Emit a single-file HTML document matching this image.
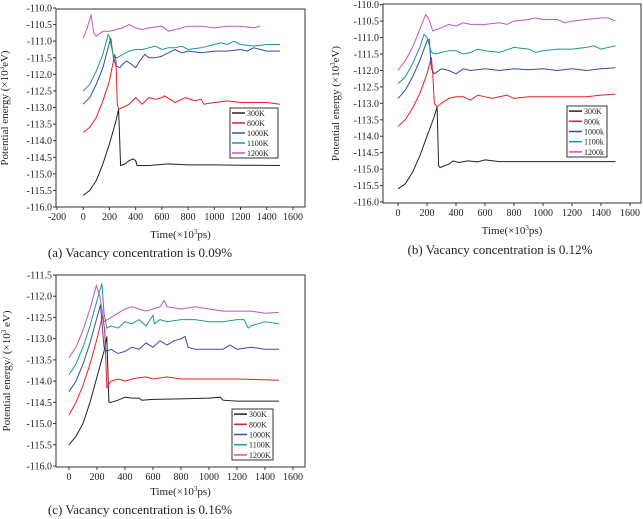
<!DOCTYPE html>
<html><head><meta charset="utf-8"><style>
html,body{margin:0;padding:0;background:#fff}
svg{display:block}
text{font-family:"Liberation Serif",serif;fill:#222}
</style></head><body>
<svg id="fig" width="643" height="519" viewBox="0 0 643 519" xmlns="http://www.w3.org/2000/svg"></svg>
<script>
const seriesNames=["300K","800K","1000K","1100K","1200K"];
const colors=["#222","#e8202a","#3a4aa8","#1a9a8a","#c055c0"];
const legendA=["300K","800K","1000K","1100K","1200K"];
const legendB=["300K","800k","1000k","1100k","1200k"];
const xTicksA=[-200,0,200,400,600,800,1000,1200,1400,1600];
const xTicksBC=[0,200,400,600,800,1000,1200,1400,1600];
const yTicksAB=[-110.0,-110.5,-111.0,-111.5,-112.0,-112.5,-113.0,-113.5,-114.0,-114.5,-115.0,-115.5,-116.0];
const yTicksC=[-111.5,-112.0,-112.5,-113.0,-113.5,-114.0,-114.5,-115.0,-115.5,-116.0];
const a300=[[0,-115.65],[50,-115.5],[100,-115.2],[150,-114.7],[200,-114.1],[250,-113.4],[270,-113.05],[285,-114.75],[320,-114.7],[350,-114.6],[380,-114.55],[400,-114.6],[410,-114.75],[500,-114.75],[650,-114.7],[800,-114.73],[1000,-114.73],[1200,-114.74],[1500,-114.75]];
const a800=[[0,-113.75],[50,-113.6],[100,-113.3],[150,-112.8],[200,-112.2],[240,-111.4],[250,-111.6],[260,-112.9],[270,-113.05],[300,-113.0],[350,-112.9],[400,-112.7],[450,-112.9],[500,-112.7],[550,-112.75],[600,-112.7],[620,-112.65],[700,-112.85],[780,-112.7],[850,-112.8],[900,-112.75],[920,-112.9],[1000,-112.85],[1100,-112.8],[1200,-112.85],[1300,-112.85],[1400,-112.85],[1500,-112.9]];
const a1000=[[0,-112.9],[50,-112.7],[100,-112.3],[150,-111.8],[190,-111.2],[210,-110.9],[230,-111.5],[250,-111.75],[280,-111.8],[300,-111.7],[330,-111.6],[370,-111.7],[400,-111.8],[430,-111.6],[470,-111.4],[500,-111.5],[550,-111.5],[600,-111.45],[650,-111.35],[700,-111.25],[750,-111.35],[800,-111.3],[900,-111.35],[1000,-111.3],[1100,-111.3],[1200,-111.25],[1250,-111.3],[1300,-111.2],[1400,-111.3],[1500,-111.3]];
const a1100=[[0,-112.5],[50,-112.3],[100,-111.9],[150,-111.4],[190,-110.8],[200,-110.85],[230,-111.45],[260,-111.5],[300,-111.4],[350,-111.3],[400,-111.25],[450,-111.25],[500,-111.2],[550,-111.15],[600,-111.25],[650,-111.2],[700,-111.2],[750,-111.15],[800,-111.25],[900,-111.2],[1000,-111.1],[1050,-111.05],[1100,-111.1],[1150,-111.0],[1200,-111.1],[1300,-111.15],[1400,-111.1],[1500,-111.1]];
const a1200=[[0,-110.9],[30,-110.6],[60,-110.2],[80,-110.75],[100,-110.85],[150,-110.7],[200,-110.7],[250,-110.65],[300,-110.6],[350,-110.5],[400,-110.6],[450,-110.65],[500,-110.6],[600,-110.55],[650,-110.7],[700,-110.65],[800,-110.55],[900,-110.55],[1000,-110.6],[1100,-110.55],[1200,-110.55],[1300,-110.6],[1350,-110.55]];
const b300=[[0,-115.6],[50,-115.45],[100,-115.1],[150,-114.6],[200,-114.0],[250,-113.4],[270,-113.1],[280,-114.9],[290,-114.95],[350,-114.85],[380,-114.75],[420,-114.8],[480,-114.75],[550,-114.78],[600,-114.72],[700,-114.77],[900,-114.77],[1200,-114.77],[1500,-114.77]];
const b800=[[0,-113.7],[50,-113.5],[100,-113.15],[150,-112.7],[200,-112.1],[230,-111.6],[240,-112.1],[250,-113.0],[270,-113.1],[300,-113.0],[350,-112.85],[400,-112.8],[450,-112.8],[500,-112.9],[550,-112.75],[600,-112.8],[650,-112.85],[700,-112.8],[750,-112.75],[800,-112.85],[900,-112.8],[1000,-112.8],[1100,-112.8],[1200,-112.8],[1300,-112.8],[1400,-112.75],[1500,-112.72]];
const b1000=[[0,-112.85],[50,-112.6],[100,-112.2],[150,-111.7],[200,-111.1],[215,-111.05],[230,-111.95],[250,-112.1],[300,-111.95],[350,-112.0],[400,-112.1],[450,-111.95],[500,-112.0],[600,-111.95],[700,-112.0],[800,-111.95],[900,-111.98],[1000,-111.95],[1100,-112.0],[1200,-111.95],[1300,-112.0],[1400,-111.95],[1500,-111.92]];
const b1100=[[0,-112.4],[50,-112.2],[100,-111.8],[150,-111.3],[180,-110.9],[200,-111.0],[230,-111.45],[260,-111.5],[300,-111.45],[350,-111.4],[400,-111.4],[450,-111.5],[500,-111.45],[550,-111.35],[600,-111.4],[700,-111.45],[800,-111.3],[900,-111.35],[950,-111.45],[1000,-111.4],[1100,-111.35],[1200,-111.35],[1300,-111.3],[1350,-111.25],[1400,-111.35],[1500,-111.25]];
const b1200=[[0,-112.0],[50,-111.7],[100,-111.3],[150,-110.75],[190,-110.3],[210,-110.4],[240,-110.8],[300,-110.7],[350,-110.6],[400,-110.65],[450,-110.55],[500,-110.6],[600,-110.6],[700,-110.55],[750,-110.6],[800,-110.5],[900,-110.45],[950,-110.4],[1000,-110.45],[1100,-110.45],[1150,-110.55],[1200,-110.5],[1300,-110.45],[1400,-110.4],[1450,-110.4],[1500,-110.5]];
const c300=[[0,-115.5],[50,-115.3],[100,-115.0],[150,-114.5],[200,-113.9],[250,-113.3],[270,-112.95],[285,-114.5],[300,-114.5],[350,-114.45],[400,-114.38],[450,-114.4],[500,-114.4],[520,-114.45],[600,-114.43],[800,-114.42],[1000,-114.4],[1080,-114.38],[1100,-114.45],[1200,-114.47],[1500,-114.47]];
const c800=[[0,-114.8],[50,-114.5],[100,-114.1],[150,-113.6],[200,-113.0],[240,-112.45],[255,-112.8],[270,-114.15],[300,-114.0],[350,-113.95],[400,-114.0],[450,-113.95],[500,-113.92],[550,-113.9],[600,-113.95],[700,-113.9],[800,-113.95],[900,-113.95],[1000,-113.95],[1200,-113.95],[1500,-113.98]];
const c1000=[[0,-114.25],[50,-114.0],[100,-113.6],[150,-113.1],[200,-112.5],[225,-112.2],[250,-113.2],[270,-113.3],[300,-113.25],[350,-113.35],[400,-113.3],[450,-113.2],[500,-113.25],[550,-113.1],[600,-113.2],[650,-113.05],[700,-113.15],[750,-113.05],[800,-113.0],[830,-112.95],[850,-113.2],[900,-113.25],[1000,-113.25],[1100,-113.25],[1150,-113.15],[1200,-113.25],[1300,-113.2],[1400,-113.25],[1500,-113.25]];
const c1100=[[0,-113.85],[50,-113.6],[100,-113.2],[150,-112.7],[200,-112.1],[235,-111.7],[250,-112.4],[270,-112.75],[300,-112.7],[350,-112.75],[400,-112.6],[450,-112.65],[500,-112.55],[550,-112.7],[600,-112.45],[610,-112.65],[650,-112.55],[700,-112.6],[800,-112.55],[900,-112.55],[1000,-112.6],[1100,-112.6],[1200,-112.55],[1250,-112.55],[1280,-112.75],[1300,-112.7],[1400,-112.6],[1500,-112.65]];
const c1200=[[0,-113.45],[50,-113.2],[100,-112.8],[150,-112.3],[195,-111.75],[220,-112.0],[250,-112.6],[300,-112.5],[350,-112.4],[400,-112.3],[450,-112.25],[500,-112.3],[550,-112.35],[600,-112.3],[650,-112.25],[680,-112.1],[700,-112.25],[800,-112.3],[900,-112.25],[1000,-112.3],[1100,-112.35],[1200,-112.35],[1300,-112.35],[1400,-112.4],[1500,-112.38]];

const NS="http://www.w3.org/2000/svg";
const svg=document.getElementById('fig');
function mk(tag,attrs,parent,txt){const e=document.createElementNS(NS,tag);for(const k in attrs)e.setAttribute(k,attrs[k]);if(txt!==undefined)e.textContent=txt;parent.appendChild(e);return e;}

function panel(id,box,xd,yd,xpx,ypx,xticks,yticks,data,legend,leg,ytitle,ytx,xtitleY,caption,capX,capY){
  const g=mk('g',{},svg);
  
  
  const sx=v=>xpx[0]+(v-xd[0])/(xd[1]-xd[0])*(xpx[1]-xpx[0]);
  const sy=v=>ypx[0]+(v-yd[0])/(yd[1]-yd[0])*(ypx[1]-ypx[0]);
  const frame=mk('rect',{x:box[0],y:box[1],width:box[2]-box[0],height:box[3]-box[1],fill:'none',stroke:'#333','stroke-width':1},g);
  
  
  yticks.forEach(v=>{const y=sy(v);
    mk('line',{x1:box[0]-3,x2:box[0],y1:y,y2:y,stroke:'#333'},g);
    const t=mk('text',{x:box[0]-4,y:y+3.5,'font-size':10,'text-anchor':'end'},g,v.toFixed(1));
    
    });
  xticks.forEach(v=>{const x=sx(v);
    mk('line',{x1:x,x2:x,y1:box[3],y2:box[3]+3,stroke:'#333'},g);
    const t=mk('text',{x:x,y:box[3]+13,'font-size':10,'text-anchor':'middle'},g,String(v));
    
    });
  data.forEach((d,i)=>{
    const p=mk('polyline',{points:d.map(q=>sx(q[0]).toFixed(1)+','+sy(q[1]).toFixed(1)).join(' '),fill:'none',stroke:colors[i],'stroke-width':1},g);
    
    });
  const lg=mk('g',{},g);
  
  
  mk('rect',{x:leg[0],y:leg[1],width:leg[2],height:leg[3],fill:'#fff',stroke:'#333'},lg);
  const rh=leg[3]/5;
  legend.forEach((n,i)=>{const y=leg[1]+rh*(i+0.5);
    mk('line',{x1:leg[0]+2,x2:leg[0]+15,y1:y,y2:y,stroke:colors[i],'stroke-width':1.5},lg);
    const t=mk('text',{x:leg[0]+17,y:y+3,'font-size':8},lg,n);
    
    });
  const yt=mk('text',{transform:`translate(${ytx},${(box[1]+box[3])/2}) rotate(-90)`,'font-size':11,'text-anchor':'middle'},g);
  
  
  yt.innerHTML=ytitle;
  const xt=mk('text',{x:(box[0]+box[2])/2,y:xtitleY,'font-size':11,'text-anchor':'middle'},g);
  
  
  xt.innerHTML='Time(×10<tspan dy="-4" font-size="7">3</tspan><tspan dy="4">ps)</tspan>';
  const c=mk('text',{x:capX,y:capY,'font-size':13,'text-anchor':'middle'},g,caption);
  
  
}
const ytl='Potential energy (×10<tspan dy="-4" font-size="7">3</tspan><tspan dy="4">eV)</tspan>';
panel('a',[56,9,305,207],[-200,1600],[-110,-116],[57,293],[8,207],xTicksA,yTicksAB,[a300,a800,a1000,a1100,a1200],legendA,[230,108,48,50],ytl,8,238,'(a) Vacancy concentration is 0.09%',140,257);
panel('b',[383,4,641,203],[0,1600],[-110,-116],[398,630],[4.7,202],xTicksBC,yTicksAB,[b300,b800,b1000,b1100,b1200],legendB,[567,106,40,51],ytl,339,234,'(b) Vacancy concentration is 0.12%',500,254);
panel('c',[56,275,305,467],[0,1600],[-111.5,-116],[69,293],[275,466],xTicksBC,yTicksC,[c300,c800,c1000,c1100,c1200],legendA,[232,409,41,51],'Potential energy/ (×10<tspan dy="-4" font-size="7">3</tspan><tspan dy="4"> eV)</tspan>',10,495,'(c) Vacancy concentration is 0.16%',140,514);
</script>
</body></html>
